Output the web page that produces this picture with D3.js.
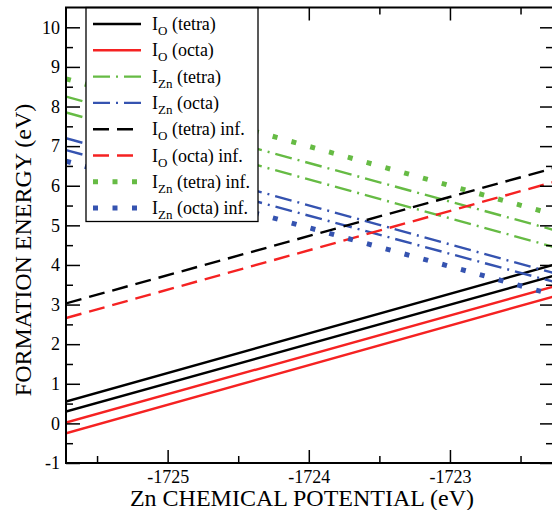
<!DOCTYPE html>
<html>
<head>
<meta charset="utf-8">
<script src="https://cdn.jsdelivr.net/npm/d3@7"></script>
<style>
  body { margin: 0; background: #fff; }
  svg { display: block; font-family: "Liberation Serif", "Times New Roman", serif; }
  svg text { font-family: "Liberation Serif", "Times New Roman", serif; }
</style>
</head>
<body>
<script>
// Zn chemical potential at the two ends of every line
var muZn = [-1725.72, -1722.27];

// formation energy read at the two ends (each inner pair = one line)
var ioTetra     = [[0.55, 4.00], [0.30, 3.72]];
var ioOcta      = [[0.02, 3.45], [-0.25, 3.20]];
var iznTetra    = [[8.25, 4.89], [7.85, 4.46]];
var iznOcta     = [[7.20, 3.80], [6.90, 3.58]];
var ioTetraInf  = [[3.03, 6.44]];
var ioOctaInf   = [[2.66, 6.09]];
var iznTetraInf = [[8.70, 5.28]];
var iznOctaInf  = [[6.62, 3.25]];

var xTicks = [-1725, -1724, -1723];
var yTicks = [-1, 0, 1, 2, 3, 4, 5, 6, 7, 8, 9, 10];

var legendBase = ["O", "O", "Zn", "Zn", "O", "O", "Zn", "Zn"];
var legendTail = [" (tetra)", " (octa)", " (tetra)", " (octa)",
                  " (tetra) inf.", " (octa) inf.", " (tetra) inf.", " (octa) inf."];

var black = "#000", red = "#f52222", green = "#66bb44", blue = "#3553b0";
var solid = null, dashed = "16,8", dashDot = "17,6,2,6", dotted = "5,14.5";

var series = [
  { lines: ioTetra,     color: black, dash: solid,   w: 2.4 },
  { lines: ioOcta,      color: red,   dash: solid,   w: 2.4 },
  { lines: iznTetra,    color: green, dash: dashDot, w: 2.4 },
  { lines: iznOcta,     color: blue,  dash: dashDot, w: 2.4 },
  { lines: ioTetraInf,  color: black, dash: dashed,  w: 2.4 },
  { lines: ioOctaInf,   color: red,   dash: dashed,  w: 2.4 },
  { lines: iznTetraInf, color: green, dash: dotted,  w: 5 },
  { lines: iznOctaInf,  color: blue,  dash: dotted,  w: 5 }
];

var W = 552, H = 510;
var pLeft = 66, pRight = 553, pTop = 7.5, pBottom = 463;
var serif = '"Liberation Serif", "Times New Roman", serif';

var x = d3.scaleLinear().domain(muZn).range([pLeft, pRight]);
var y = d3.scaleLinear().domain([-1, 10.5]).range([pBottom, pTop]);

var svg = d3.select("body").append("svg")
    .attr("width", W)
    .attr("height", H);

svg.append("clipPath").attr("id", "plot")
  .append("rect")
    .attr("x", pLeft).attr("y", pTop)
    .attr("width", pRight - pLeft).attr("height", pBottom - pTop);

var line = d3.line()
    .x(function(d) { return x(d[0]); })
    .y(function(d) { return y(d[1]); });

var g = svg.append("g").attr("clip-path", "url(#plot)");

series.forEach(function(s) {
  s.lines.forEach(function(v) {
    g.append("path")
      .datum([[muZn[0], v[0]], [muZn[1], v[1]]])
      .attr("d", line)
      .attr("fill", "none")
      .attr("stroke", s.color)
      .attr("stroke-width", s.w)
      .attr("stroke-dasharray", s.dash);
  });
});

// axes: ticks on all four sides, pointing inward
var plain = function(d) { return String(d); };
var xMinor = d3.range(-1725.5, -1722, 1);
var yMinor = d3.range(-0.5, 10.5, 1);

var axB = d3.axisBottom(x).tickValues(xTicks).tickSizeInner(-13).tickSizeOuter(0).tickFormat(plain).tickPadding(7);
var axBm = d3.axisBottom(x).tickValues(xMinor).tickSizeInner(-7).tickSizeOuter(0).tickFormat("");
var axT = d3.axisTop(x).tickValues(xTicks).tickSizeInner(-13).tickSizeOuter(0).tickFormat("");
var axTm = d3.axisTop(x).tickValues(xMinor).tickSizeInner(-7).tickSizeOuter(0).tickFormat("");
var axL = d3.axisLeft(y).tickValues(yTicks).tickSizeInner(-14).tickSizeOuter(0).tickFormat(plain).tickPadding(6);
var axLm = d3.axisLeft(y).tickValues(yMinor).tickSizeInner(-7).tickSizeOuter(0).tickFormat("");
var axR = d3.axisRight(y).tickValues(yTicks).tickSizeInner(-13).tickSizeOuter(0).tickFormat("");
var axRm = d3.axisRight(y).tickValues(yMinor).tickSizeInner(-7).tickSizeOuter(0).tickFormat("");

function put(ax, tr) {
  var a = svg.append("g").attr("transform", tr).call(ax);
  a.attr("font-family", null).attr("font-size", null);
  a.select(".domain").remove();
  a.selectAll("line").attr("stroke", "#000").attr("stroke-width", 1.5);
  a.selectAll("text").attr("fill", "#000")
    .style("font-family", serif).style("font-size", "18px");
  return a;
}
put(axB, "translate(0," + pBottom + ")");
put(axBm, "translate(0," + pBottom + ")");
put(axT, "translate(0," + pTop + ")");
put(axTm, "translate(0," + pTop + ")");
put(axL, "translate(" + pLeft + ",0)");
put(axLm, "translate(" + pLeft + ",0)");
put(axR, "translate(" + pRight + ",0)");
put(axRm, "translate(" + pRight + ",0)");

// legend
var lx = 86, lw = 172, lh = 214;
var lg = svg.append("g");
lg.append("rect")
  .attr("x", lx).attr("y", pTop).attr("width", lw).attr("height", lh)
  .attr("fill", "#fff").attr("stroke", "#000").attr("stroke-width", 1.3);

series.forEach(function(s, i) {
  var ry = 24 + i * 26.3;
  lg.append("line")
    .attr("x1", 93).attr("x2", 141).attr("y1", ry).attr("y2", ry)
    .attr("stroke", s.color)
    .attr("stroke-width", s.w)
    .attr("stroke-dasharray", s.dash);
  var t = lg.append("text")
    .attr("x", 152).attr("y", ry + 6)
    .style("font-size", "18px");
  t.append("tspan").text("I");
  t.append("tspan").attr("dy", 5).style("font-size", "13px").text(legendBase[i]);
  t.append("tspan").attr("dy", -5).text(legendTail[i]);
});

// frame
svg.append("rect")
  .attr("x", pLeft).attr("y", pTop)
  .attr("width", pRight - pLeft).attr("height", pBottom - pTop)
  .attr("fill", "none").attr("stroke", "#000").attr("stroke-width", 2);

// axis titles
svg.append("text")
  .attr("x", 302).attr("y", 506)
  .attr("text-anchor", "middle")
  .style("font-size", "24px")
  .text("Zn CHEMICAL POTENTIAL (eV)");

svg.append("text")
  .attr("transform", "translate(31,250) rotate(-90)")
  .attr("text-anchor", "middle")
  .style("font-size", "24px")
  .text("FORMATION ENERGY (eV)");
</script>
</body>
</html>
